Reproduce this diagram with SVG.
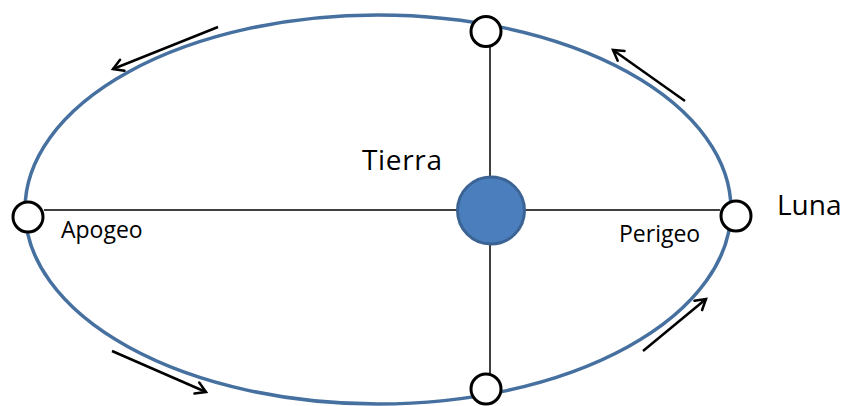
<svg xmlns="http://www.w3.org/2000/svg" width="846" height="406" viewBox="0 0 846 406">
<style>
  .orbit{fill:none;stroke:#46709f;stroke-width:3.5}
  .axis{stroke:#000;stroke-width:1.5}
  .moon{fill:#fff;stroke:#000;stroke-width:3}
  .earth{fill:#4a7ebd;stroke:#3b6494;stroke-width:3}
  .arrow{stroke:#000;stroke-width:2.5;fill:none;marker-end:url(#head)}
  .big{font-family:"Open Sans","Liberation Sans",sans-serif;font-size:28px;fill:#000}
  .small{font-family:"Open Sans","Liberation Sans",sans-serif;font-size:23px;fill:#000}
</style>
<defs>
  <marker id="head" markerUnits="userSpaceOnUse" markerWidth="20" markerHeight="20" viewBox="-12 -10 14 20" refX="0" refY="0" orient="auto">
    <path d="M -10 -6 L 0 0 L -10 6" fill="none" stroke="#000" stroke-width="2.5" stroke-linecap="round" stroke-linejoin="miter"/>
  </marker>
</defs>
<rect width="846" height="406" fill="#fff"/>
<g id="orbit">
  <ellipse class="orbit" cx="378" cy="209.5" rx="353" ry="194.5"/>
</g>
<g id="connectors">
  <line class="axis" x1="44" y1="210" x2="720" y2="210"/>
  <line class="axis" x1="490" y1="47" x2="490" y2="374"/>
  <line class="arrow" x1="218" y1="27" x2="113" y2="69"/>
  <line class="arrow" x1="685" y1="101" x2="613" y2="50"/>
  <line class="arrow" x1="112" y1="351" x2="206" y2="392"/>
  <line class="arrow" x1="643" y1="351" x2="706" y2="299"/>
</g>
<g id="luna-top"><circle class="moon" cx="486" cy="31.5" r="15"/></g>
<g id="luna-bottom"><circle class="moon" cx="486" cy="389" r="15"/></g>
<g id="luna-apogeo"><circle class="moon" cx="28" cy="217" r="15"/></g>
<g id="luna-perigeo"><circle class="moon" cx="736" cy="216" r="15"/></g>
<g id="tierra"><circle class="earth" cx="491" cy="210.5" r="33.5"/></g>
<g id="labels">
  <text class="big" x="362" y="170" textLength="80">Tierra</text>
  <text class="big" x="777" y="215">Luna</text>
  <text class="small" x="61" y="238">Apogeo</text>
  <text class="small" x="619" y="242">Perigeo</text>
</g>
</svg>
